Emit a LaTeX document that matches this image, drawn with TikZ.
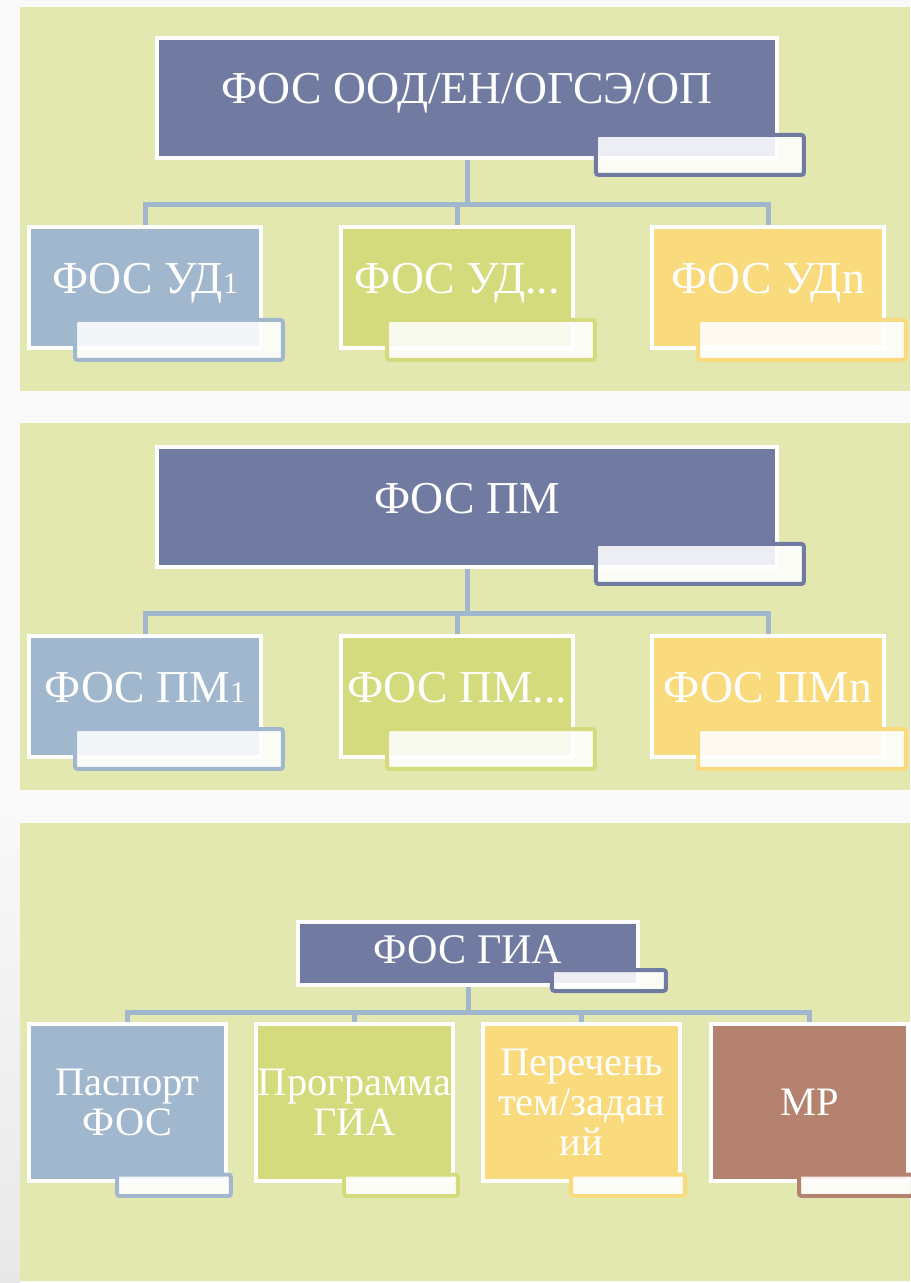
\documentclass[tikz,border=0pt]{standalone}
\usepackage{fontspec}
\setmainfont{Liberation Serif}
\usepackage{tikz}
\usetikzlibrary{positioning,calc}

\definecolor{pagebg}{RGB}{250,250,250}
\definecolor{panelbg}{RGB}{227,232,176}
\definecolor{fosslate}{RGB}{113,123,161}
\definecolor{fosblue}{RGB}{161,183,206}
\definecolor{fosgreen}{RGB}{212,219,124}
\definecolor{fosyellow}{RGB}{249,218,124}
\definecolor{fosbrown}{RGB}{181,130,111}

\newcommand{\one}{{\fontsize{17}{17}\selectfont 1}}

\tikzset{
    fosbox/.style={draw=white, line width=0.08cm, fill=#1, inner sep=0pt, text=white,
        align=center, font=\fontsize{26}{28}\selectfont},
    headbox/.style={fosbox=fosslate, minimum width=12.4cm, minimum height=2.4cm,
        text height=0.62cm, text depth=0.38cm},
    subbox/.style={fosbox=#1, minimum width=4.64cm, minimum height=2.42cm,
        text height=0.62cm, text depth=0.38cm},
    giabox/.style={fosbox=fosslate, minimum width=6.8cm, minimum height=1.26cm,
        text height=0.6cm, text depth=0.22cm, font=\fontsize{24}{26}\selectfont},
    partbox/.style={fosbox=#1, minimum width=3.94cm, minimum height=3.14cm,
        font=\fontsize{23}{22.7}\selectfont},
    tabbox/.style={draw=#1, line width=0.08cm, fill=white, fill opacity=0.88,
        rounded corners=1.5pt, inner sep=0pt, anchor=south east},
    bigtab/.style={tabbox=#1, minimum width=4.16cm, minimum height=0.8cm},
    smalltab/.style={tabbox=#1, minimum width=2.28cm, minimum height=0.43cm},
    conn/.style={draw=fosblue, line width=0.1cm},
}

\begin{document}
\begin{tikzpicture}[x=0.02cm, y=-0.02cm]
    % page and the three panels
    \fill[pagebg] (0,0) rectangle (910,1283);
    \shade[top color=pagebg, bottom color=black!9] (0,780) rectangle (20,1283);
    \fill[panelbg] (20,7) rectangle (910,391);
    \fill[panelbg] (20,423) rectangle (910,790);
    \fill[panelbg] (20,823) rectangle (910,1281);
    \useasboundingbox (0,0) rectangle (910,1283);

    % panel 1
    \node[headbox] (ood) at (467,98) {ФОС ООД/ЕН/ОГСЭ/ОП};
    \node[subbox=fosblue] (ud1) at (145,287.5) {ФОС УД\one};
    \node[subbox=fosgreen] (ud2) at (457,287.5) {ФОС УД...};
    \node[subbox=fosyellow] (udn) at (768,287.5) {ФОС УДn};
    \draw[conn] (ood.south) -- ++(0,45) -| (ud1.north);
    \draw[conn] (ood.south) -- ++(0,45) -| (ud2.north);
    \draw[conn] (ood.south) -- ++(0,45) -| (udn.north);
    \node[bigtab=fosslate] (oodtab) at ($(ood.south east)+(27,17)$) {};
    \node[bigtab=fosblue] (ud1tab) at ($(ud1.south east)+(22,12)$) {};
    \node[bigtab=fosgreen] (ud2tab) at ($(ud2.south east)+(22,12)$) {};
    \node[bigtab=fosyellow] (udntab) at ($(udn.south east)+(22,12)$) {};

    % panel 2
    \node[headbox] (pm) at (467,507) {ФОС ПМ};
    \node[subbox=fosblue] (pm1) at (145,696.5) {ФОС ПМ\one};
    \node[subbox=fosgreen] (pm2) at (457,696.5) {ФОС ПМ...};
    \node[subbox=fosyellow] (pmn) at (768,696.5) {ФОС ПМn};
    \draw[conn] (pm.south) -- ++(0,45) -| (pm1.north);
    \draw[conn] (pm.south) -- ++(0,45) -| (pm2.north);
    \draw[conn] (pm.south) -- ++(0,45) -| (pmn.north);
    \node[bigtab=fosslate] (pmtab) at ($(pm.south east)+(27,17)$) {};
    \node[bigtab=fosblue] (pm1tab) at ($(pm1.south east)+(22,12)$) {};
    \node[bigtab=fosgreen] (pm2tab) at ($(pm2.south east)+(22,12)$) {};
    \node[bigtab=fosyellow] (pmntab) at ($(pmn.south east)+(22,12)$) {};

    % panel 3
    \node[giabox] (gia) at (468,953.5) {ФОС ГИА};
    \node[partbox=fosblue] (pasp) at (127.5,1102.5) {Паспорт\\ФОС};
    \node[partbox=fosgreen] (prog) at (354.5,1102.5) {Программа\\ГИА};
    \node[partbox=fosyellow] (per) at (581.5,1102.5) {Перечень\\тем/задан\\ий};
    \node[partbox=fosbrown] (mr) at (809.5,1102.5) {МР};
    \draw[conn] (gia.south) -- ++(0,25) -| (pasp.north);
    \draw[conn] (gia.south) -- ++(0,25) -| (prog.north);
    \draw[conn] (gia.south) -- ++(0,25) -| (per.north);
    \draw[conn] (gia.south) -- ++(0,25) -| (mr.north);
    \node[tabbox=fosslate, minimum width=2.28cm, minimum height=0.42cm] (giatab)
        at ($(gia.south east)+(28,6)$) {};
    \node[smalltab=fosblue] (pasptab) at ($(pasp.south east)+(5,15)$) {};
    \node[smalltab=fosgreen] (progtab) at ($(prog.south east)+(5,15)$) {};
    \node[smalltab=fosyellow] (pertab) at ($(per.south east)+(5,15)$) {};
    \node[smalltab=fosbrown] (mrtab) at ($(mr.south east)+(5,15)$) {};
\end{tikzpicture}
\end{document}
